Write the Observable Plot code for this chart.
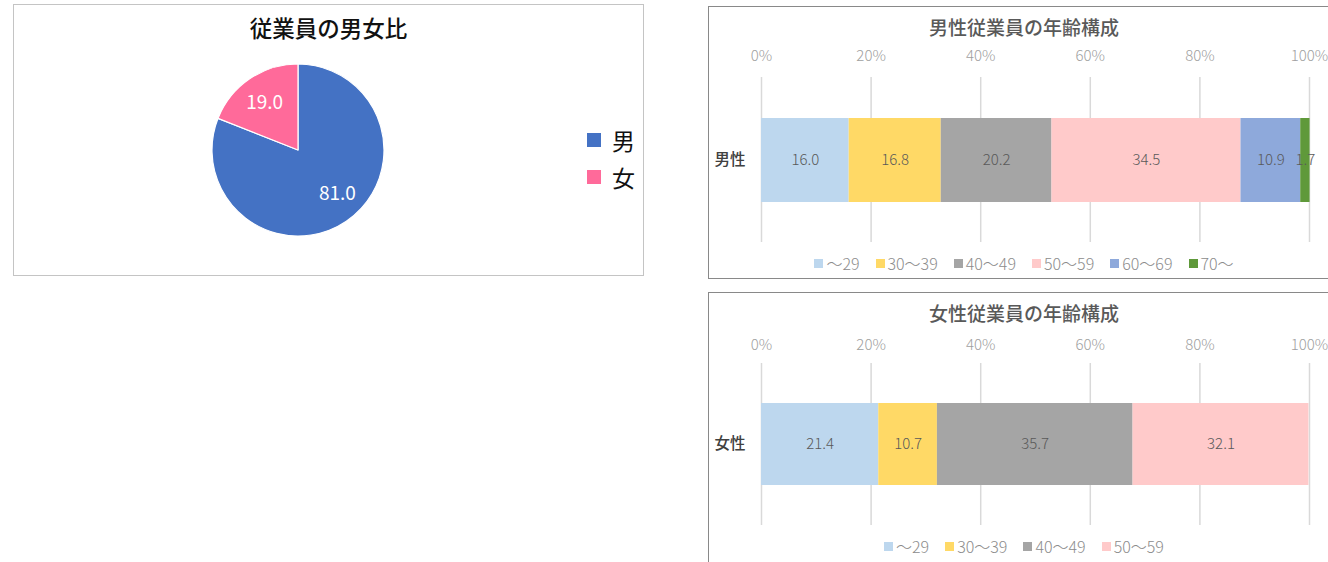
<!DOCTYPE html>
<html>
<head>
<meta charset="utf-8">
<script src="https://cdn.jsdelivr.net/npm/d3@7"></script>
<script src="https://cdn.jsdelivr.net/npm/@observablehq/plot@0.6"></script>
<style>
  html, body { margin: 0; padding: 0; background: #fff; }
  body { width: 1328px; height: 562px; overflow: hidden; position: relative;
         font-family: "Noto Sans CJK JP", "Noto Sans", sans-serif; }
  .panel { position: absolute; box-sizing: border-box; background: #fff; overflow: hidden; }
  .abs { position: absolute; }
  .title { position: absolute; left: 0; width: 100%; text-align: center; white-space: nowrap; }
  .legend { position: absolute; left: 0; width: 100%; display: flex; justify-content: center;
            align-items: center; white-space: nowrap; }
  .legend .item { display: flex; align-items: center; margin: 0 8px; }
  .legend .sw { width: 9px; height: 9px; margin-right: 3px; }
  .legend .lb { font-size: 16px; font-weight: 300; color: #8c8c8c; line-height: 20px; }
  .plegend .row { position: absolute; display: flex; align-items: center; height: 28px; }
  .plegend .sw { width: 14px; height: 14px; margin-right: 11px; }
  .plegend .lb { font-size: 23px; color: #111; line-height: 28px; }
</style>
</head>
<body>
<div id="p1" class="panel" style="left:13px;top:4px;width:631px;height:272px;border:1px solid #c4c4c4;">
  <div class="title" style="top:7px;font-size:22.5px;font-weight:500;color:#111;line-height:30px;">従業員の男女比</div>
  <div id="pie" class="abs" style="left:194px;top:55px;"></div>
  <div id="pieLegend" class="plegend"></div>
</div>
<div id="p2" class="panel" style="left:708px;top:6px;width:632px;height:273px;border:1px solid #898989;">
  <div class="title" style="top:7px;font-size:19px;font-weight:500;color:#595959;line-height:26px;">男性従業員の年齢構成</div>
  <div id="bar1" class="abs" style="left:0;top:0;"></div>
  <div id="leg1" class="legend" style="top:246px;"></div>
</div>
<div id="p3" class="panel" style="left:708px;top:292px;width:632px;height:290px;border:1px solid #898989;">
  <div class="title" style="top:7px;font-size:19px;font-weight:500;color:#595959;line-height:26px;">女性従業員の年齢構成</div>
  <div id="bar2" class="abs" style="left:0;top:0;"></div>
  <div id="leg2" class="legend" style="top:243px;"></div>
</div>
<script>
// ---- data ----
const genders = ["男", "女"];
const genderShares = [81.0, 19.0];
const genderColors = ["#4472C4", "#FF6A9A"];

const ageGroups = ["～29", "30～39", "40～49", "50～59", "60～69", "70～"];
const ageColors = ["#BDD7EE", "#FFD966", "#A5A5A5", "#FFCACA", "#8EA9DB", "#5F993A"];
const maleAgeShares = [16.0, 16.8, 20.2, 34.5, 10.9, 1.7];
const femaleAgeShares = [21.4, 10.7, 35.7, 32.1];
const percentTicks = [0, 20, 40, 60, 80, 100];

const FONT = '"Noto Sans CJK JP", "Noto Sans", sans-serif';

// ---- pie ----
const R = 86;
const pieRows = genders.map((g, i) => ({g, v: genderShares[i], c: genderColors[i]}));
const arcs = d3.pie().sort(null).value(d => d.v)(pieRows);
const labelArc = d3.arc().innerRadius(0).outerRadius(R * 1.4);
const pieLabels = arcs.map(a => {
  const [cx, cy] = labelArc.centroid(a);
  return {g: a.data.g, x: cx, y: cy, t: a.data.v.toFixed(1)};
});

function pieSlices(index, scales) {
  const cx = scales.x(0), cy = scales.y(0);
  const r = scales.x(R) - scales.x(0);
  const arc = d3.arc().innerRadius(0).outerRadius(r);
  const g = d3.create("svg:g").attr("transform", `translate(${cx},${cy})`);
  g.selectAll("path").data(arcs).join("path")
    .attr("d", arc)
    .attr("fill", d => d.data.c)
    .attr("stroke", "#fff")
    .attr("stroke-width", 1.2)
    .attr("stroke-linejoin", "round");
  return g.node();
}

const piePlot = Plot.plot({
  width: 180, height: 180, margin: 0,
  style: {fontFamily: FONT, overflow: "visible", background: "transparent"},
  x: {domain: [-90, 90], range: [0, 180], axis: null},
  y: {domain: [-90, 90], range: [0, 180], axis: null},
  marks: [
    pieSlices,
    Plot.text(pieLabels.filter(d => d.g === "女"), {x: "x", y: "y", text: "t", fill: "#fff", fontSize: 19, dx: 0, dy: 2}),
    Plot.text(pieLabels.filter(d => d.g === "男"), {x: "x", y: "y", text: "t", fill: "#fff", fontSize: 19, dx: 5, dy: -6})
  ]
});
document.getElementById("pie").appendChild(piePlot);

const pl = document.getElementById("pieLegend");
genders.forEach((g, i) => {
  const row = document.createElement("div");
  row.className = "row";
  row.style.left = "573px";
  row.style.top = (121 + i * 37) + "px";
  row.innerHTML = `<div class="sw" style="background:${genderColors[i]}"></div><div class="lb">${g}</div>`;
  pl.appendChild(row);
});

// ---- stacked bars ----
function ageChart(cat, shares, cfg) {
  const rows = shares.map((v, i) => ({g: cat, age: ageGroups[i], v}));
  return Plot.plot({
    width: 630, height: 250,
    marginLeft: 52, marginRight: 30, marginTop: 70, marginBottom: cfg.mb,
    style: {fontFamily: FONT, overflow: "visible", background: "transparent"},
    x: {domain: [0, 100]},
    y: {domain: [cat], padding: 0.326},
    color: {domain: ageGroups, range: ageColors},
    marks: [
      Plot.gridX(percentTicks, {stroke: "#d9d9d9", strokeOpacity: 1, strokeWidth: 1.5}),
      Plot.axisX({anchor: "top", ticks: percentTicks, tickFormat: d => d + "%", tickSize: 0,
                  tickPadding: cfg.tp, fill: "#a0a0a0", fontSize: 15, fontWeight: 300, label: null}),
      Plot.axisY({tickSize: 0, tickPadding: 16, fill: "#404040", fontSize: 15.5, fontWeight: 500, label: null}),
      Plot.barX(rows, Plot.stackX({x: "v", y: "g", fill: "age"})),
      Plot.text(rows, Plot.stackX({x: "v", y: "g", text: d => d.v.toFixed(1),
                                   fill: "#595959", fontSize: 15, fontWeight: 300}))
    ]
  });
}

document.getElementById("bar1").appendChild(ageChart("男性", maleAgeShares, {mb: 15, tp: 17}));
document.getElementById("bar2").appendChild(ageChart("女性", femaleAgeShares, {mb: 18, tp: 14}));

function buildLegend(id, n) {
  const el = document.getElementById(id);
  for (let i = 0; i < n; i++) {
    const it = document.createElement("div");
    it.className = "item";
    it.innerHTML = `<div class="sw" style="background:${ageColors[i]}"></div><div class="lb">${ageGroups[i]}</div>`;
    el.appendChild(it);
  }
}
buildLegend("leg1", maleAgeShares.length);
buildLegend("leg2", femaleAgeShares.length);
</script>
</body>
</html>
